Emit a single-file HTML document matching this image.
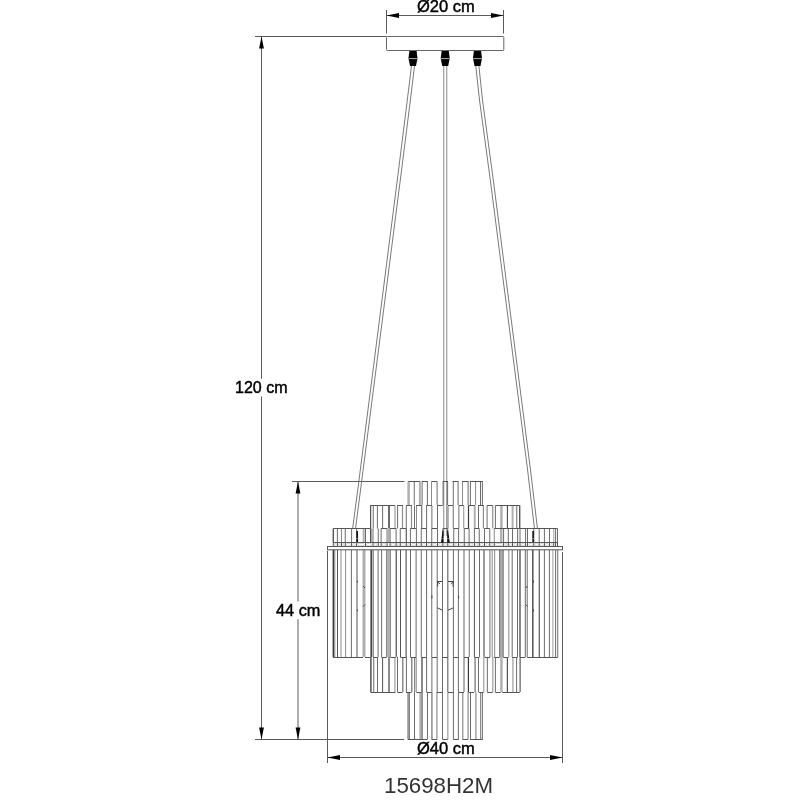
<!DOCTYPE html>
<html><head><meta charset="utf-8"><style>
html,body{margin:0;padding:0;background:#fff;width:800px;height:800px;overflow:hidden}
svg{position:absolute;left:0;top:0}
.t{position:absolute;font-family:"Liberation Sans",sans-serif;color:#000;white-space:nowrap;line-height:1;-webkit-text-stroke:0.45px #000;will-change:transform}
</style></head><body>
<svg width="800" height="800" viewBox="0 0 800 800">
<line x1="255" y1="36.5" x2="386.5" y2="36.5" stroke="#5a5a5a" stroke-width="1"/>
<line x1="261.5" y1="36.5" x2="261.5" y2="378.7" stroke="#5a5a5a" stroke-width="1"/>
<line x1="261.5" y1="396.5" x2="261.5" y2="739.5" stroke="#5a5a5a" stroke-width="1"/>
<path d="M261.5,36.5 L259.1,48.5 L263.9,48.5 Z" fill="#000" stroke="none" stroke-width="1"/>
<line x1="255" y1="739.5" x2="404" y2="739.5" stroke="#5a5a5a" stroke-width="1"/>
<path d="M261.5,739.5 L259.1,727.5 L263.9,727.5 Z" fill="#000" stroke="none" stroke-width="1"/>
<line x1="292" y1="481.5" x2="404.5" y2="481.5" stroke="#5a5a5a" stroke-width="1"/>
<line x1="298" y1="481.5" x2="298" y2="601.5" stroke="#5a5a5a" stroke-width="1"/>
<line x1="298" y1="619.2" x2="298" y2="739.5" stroke="#5a5a5a" stroke-width="1"/>
<path d="M298,481.5 L295.6,493.5 L300.4,493.5 Z" fill="#000" stroke="none" stroke-width="1"/>
<path d="M298,739.5 L295.6,727.5 L300.4,727.5 Z" fill="#000" stroke="none" stroke-width="1"/>
<line x1="386.5" y1="10" x2="386.5" y2="33.5" stroke="#5a5a5a" stroke-width="1"/>
<line x1="503.5" y1="10" x2="503.5" y2="33.5" stroke="#5a5a5a" stroke-width="1"/>
<line x1="386.5" y1="15.5" x2="503.5" y2="15.5" stroke="#5a5a5a" stroke-width="1"/>
<path d="M386.5,15.5 L399,13.1 L399,17.9 Z" fill="#000" stroke="none" stroke-width="1"/>
<path d="M503.5,15.5 L491,13.1 L491,17.9 Z" fill="#000" stroke="none" stroke-width="1"/>
<line x1="327.5" y1="551" x2="327.5" y2="763" stroke="#5a5a5a" stroke-width="1"/>
<line x1="562.5" y1="552" x2="562.5" y2="763" stroke="#5a5a5a" stroke-width="1"/>
<line x1="327.5" y1="757.5" x2="562.5" y2="757.5" stroke="#5a5a5a" stroke-width="1"/>
<path d="M327.5,757.5 L340,755.1 L340,759.9 Z" fill="#000" stroke="none" stroke-width="1"/>
<path d="M562.5,757.5 L550,755.1 L550,759.9 Z" fill="#000" stroke="none" stroke-width="1"/>
<rect x="386.5" y="36.5" width="117.3" height="14" rx="0.8" fill="#fff" stroke="#666" stroke-width="1"/>
<path d="M409.4,51 L416.6,51 L417.5,58.2 L416,66 L410,66 L408.5,58.2 Z" fill="#000" stroke="none" stroke-width="1"/>
<line x1="408.7" y1="58.6" x2="417.3" y2="58.6" stroke="#ddd" stroke-width="0.8"/>
<path d="M441.59999999999997,51 L448.8,51 L449.7,58.2 L448.2,66 L442.2,66 L440.7,58.2 Z" fill="#000" stroke="none" stroke-width="1"/>
<line x1="440.9" y1="58.6" x2="449.5" y2="58.6" stroke="#ddd" stroke-width="0.8"/>
<path d="M473.9,51 L481.1,51 L482.0,58.2 L480.5,66 L474.5,66 L473.0,58.2 Z" fill="#000" stroke="none" stroke-width="1"/>
<line x1="473.2" y1="58.6" x2="481.8" y2="58.6" stroke="#ddd" stroke-width="0.8"/>
<path d="M411.5,66 L407.3,100 L397.3,180 L358.9,481 L352.7,528 M414.5,66 L410.4,100 L400.3,180 L361.7,481 L355.6,528 M475.8,66 L479.5,100 L490.3,180 L527.6,470 L534.4,528 M478.9,66 L482.5,100 L493.3,180 L530.5,470 L537.4,528" fill="none" stroke="#6a6a6a" stroke-width="0.9"/>
<line x1="443.75" y1="66" x2="443.75" y2="536" stroke="#888" stroke-width="1"/>
<line x1="446.75" y1="66" x2="446.75" y2="536" stroke="#888" stroke-width="1"/>
<line x1="333.4" y1="550" x2="333.4" y2="657" stroke="#3a3a3a" stroke-width="1.6"/>
<line x1="334.8" y1="550" x2="334.8" y2="657" stroke="#8c8c8c" stroke-width="1"/>
<line x1="337.5" y1="550" x2="337.5" y2="657" stroke="#525252" stroke-width="1"/>
<line x1="341" y1="550" x2="341" y2="657" stroke="#8c8c8c" stroke-width="1"/>
<line x1="345.6" y1="550" x2="345.6" y2="657" stroke="#8c8c8c" stroke-width="1"/>
<line x1="351.4" y1="550" x2="351.4" y2="657" stroke="#6c6c6c" stroke-width="1"/>
<line x1="357" y1="550" x2="357" y2="657" stroke="#525252" stroke-width="1"/>
<line x1="364" y1="550" x2="364" y2="657" stroke="#b0b0b0" stroke-width="3"/>
<line x1="371.2" y1="550" x2="371.2" y2="657" stroke="#3a3a3a" stroke-width="1.5"/>
<line x1="373.2" y1="550" x2="373.2" y2="657" stroke="#8c8c8c" stroke-width="1.5"/>
<line x1="378.1" y1="550" x2="378.1" y2="657" stroke="#6c6c6c" stroke-width="1"/>
<line x1="381.6" y1="550" x2="381.6" y2="657" stroke="#6c6c6c" stroke-width="1"/>
<line x1="388.4" y1="550" x2="388.4" y2="657" stroke="#b0b0b0" stroke-width="4"/>
<line x1="386.5" y1="550" x2="386.5" y2="657" stroke="#8c8c8c" stroke-width="1"/>
<line x1="390.5" y1="550" x2="390.5" y2="657" stroke="#8c8c8c" stroke-width="1"/>
<line x1="396.3" y1="550" x2="396.3" y2="657" stroke="#6c6c6c" stroke-width="1.5"/>
<line x1="400.5" y1="550" x2="400.5" y2="657" stroke="#525252" stroke-width="1"/>
<line x1="406.1" y1="550" x2="406.1" y2="657" stroke="#3a3a3a" stroke-width="1"/>
<line x1="410.5" y1="550" x2="410.5" y2="657" stroke="#6c6c6c" stroke-width="1"/>
<line x1="416.1" y1="550" x2="416.1" y2="657" stroke="#6c6c6c" stroke-width="1"/>
<line x1="421.25" y1="550" x2="421.25" y2="657" stroke="#6c6c6c" stroke-width="1"/>
<line x1="426.6" y1="550" x2="426.6" y2="657" stroke="#6c6c6c" stroke-width="1"/>
<line x1="431.75" y1="550" x2="431.75" y2="657" stroke="#6c6c6c" stroke-width="1"/>
<line x1="437.2" y1="550" x2="437.2" y2="657" stroke="#6c6c6c" stroke-width="1"/>
<line x1="442.5" y1="550" x2="442.5" y2="657" stroke="#6c6c6c" stroke-width="1"/>
<line x1="447.8" y1="550" x2="447.8" y2="657" stroke="#6c6c6c" stroke-width="1.2"/>
<line x1="453.4" y1="550" x2="453.4" y2="657" stroke="#6c6c6c" stroke-width="1"/>
<line x1="458.4" y1="550" x2="458.4" y2="657" stroke="#6c6c6c" stroke-width="1"/>
<line x1="464" y1="550" x2="464" y2="657" stroke="#b0b0b0" stroke-width="2"/>
<line x1="469.25" y1="550" x2="469.25" y2="657" stroke="#6c6c6c" stroke-width="1"/>
<line x1="474.4" y1="550" x2="474.4" y2="657" stroke="#525252" stroke-width="1"/>
<line x1="479.5" y1="550" x2="479.5" y2="657" stroke="#6c6c6c" stroke-width="1"/>
<line x1="484" y1="550" x2="484" y2="657" stroke="#3a3a3a" stroke-width="1"/>
<line x1="489.9" y1="550" x2="489.9" y2="657" stroke="#8c8c8c" stroke-width="1.2"/>
<line x1="492.2" y1="550" x2="492.2" y2="657" stroke="#8c8c8c" stroke-width="1"/>
<line x1="494.7" y1="550" x2="494.7" y2="657" stroke="#8c8c8c" stroke-width="1"/>
<line x1="501.4" y1="550" x2="501.4" y2="657" stroke="#b0b0b0" stroke-width="4"/>
<line x1="499.7" y1="550" x2="499.7" y2="657" stroke="#6c6c6c" stroke-width="1"/>
<line x1="503.1" y1="550" x2="503.1" y2="657" stroke="#6c6c6c" stroke-width="1"/>
<line x1="508.75" y1="550" x2="508.75" y2="657" stroke="#b0b0b0" stroke-width="1.5"/>
<line x1="512.2" y1="550" x2="512.2" y2="657" stroke="#6c6c6c" stroke-width="1"/>
<line x1="517.5" y1="550" x2="517.5" y2="657" stroke="#6c6c6c" stroke-width="1"/>
<line x1="520" y1="550" x2="520" y2="657" stroke="#3a3a3a" stroke-width="1.2"/>
<line x1="525.3" y1="550" x2="525.3" y2="657" stroke="#6c6c6c" stroke-width="1"/>
<line x1="527.2" y1="550" x2="527.2" y2="657" stroke="#6c6c6c" stroke-width="1"/>
<line x1="532.8" y1="550" x2="532.8" y2="657" stroke="#525252" stroke-width="1.5"/>
<line x1="539.25" y1="550" x2="539.25" y2="657" stroke="#3a3a3a" stroke-width="1"/>
<line x1="544.4" y1="550" x2="544.4" y2="657" stroke="#6c6c6c" stroke-width="1"/>
<line x1="549.4" y1="550" x2="549.4" y2="657" stroke="#6c6c6c" stroke-width="1"/>
<line x1="552.8" y1="550" x2="552.8" y2="657" stroke="#b0b0b0" stroke-width="1.2"/>
<line x1="555.6" y1="550" x2="555.6" y2="657" stroke="#6c6c6c" stroke-width="1"/>
<line x1="557.75" y1="550" x2="557.75" y2="657" stroke="#6c6c6c" stroke-width="1"/>
<line x1="370.9" y1="657" x2="370.9" y2="692" stroke="#525252" stroke-width="1.5"/>
<line x1="373.75" y1="657" x2="373.75" y2="692" stroke="#6c6c6c" stroke-width="1"/>
<line x1="377.5" y1="657" x2="377.5" y2="692" stroke="#6c6c6c" stroke-width="1"/>
<line x1="382.6" y1="657" x2="382.6" y2="692" stroke="#525252" stroke-width="1"/>
<line x1="389" y1="657" x2="389" y2="692" stroke="#8c8c8c" stroke-width="2"/>
<line x1="394.9" y1="657" x2="394.9" y2="692" stroke="#b0b0b0" stroke-width="1.5"/>
<line x1="397.5" y1="657" x2="397.5" y2="692" stroke="#6c6c6c" stroke-width="1"/>
<line x1="402.8" y1="657" x2="402.8" y2="692" stroke="#8c8c8c" stroke-width="1.5"/>
<line x1="406.4" y1="657" x2="406.4" y2="692" stroke="#6c6c6c" stroke-width="1"/>
<line x1="411.75" y1="657" x2="411.75" y2="692" stroke="#8c8c8c" stroke-width="1.5"/>
<line x1="414.7" y1="657" x2="414.7" y2="692" stroke="#6c6c6c" stroke-width="1"/>
<line x1="416.25" y1="657" x2="416.25" y2="692" stroke="#8c8c8c" stroke-width="1"/>
<line x1="422" y1="657" x2="422" y2="692" stroke="#3a3a3a" stroke-width="1.2"/>
<line x1="426.6" y1="657" x2="426.6" y2="692" stroke="#6c6c6c" stroke-width="1"/>
<line x1="431.9" y1="657" x2="431.9" y2="692" stroke="#6c6c6c" stroke-width="1"/>
<line x1="437.2" y1="657" x2="437.2" y2="692" stroke="#6c6c6c" stroke-width="1"/>
<line x1="442.5" y1="657" x2="442.5" y2="692" stroke="#6c6c6c" stroke-width="1"/>
<line x1="447.8" y1="657" x2="447.8" y2="692" stroke="#6c6c6c" stroke-width="1.2"/>
<line x1="453.4" y1="657" x2="453.4" y2="692" stroke="#6c6c6c" stroke-width="1"/>
<line x1="458.4" y1="657" x2="458.4" y2="692" stroke="#6c6c6c" stroke-width="1"/>
<line x1="464" y1="657" x2="464" y2="692" stroke="#b0b0b0" stroke-width="2"/>
<line x1="468.4" y1="657" x2="468.4" y2="692" stroke="#3a3a3a" stroke-width="1.2"/>
<line x1="475.1" y1="657" x2="475.1" y2="692" stroke="#8c8c8c" stroke-width="1.5"/>
<line x1="478.5" y1="657" x2="478.5" y2="692" stroke="#6c6c6c" stroke-width="1"/>
<line x1="483.75" y1="657" x2="483.75" y2="692" stroke="#b0b0b0" stroke-width="1.5"/>
<line x1="487.35" y1="657" x2="487.35" y2="692" stroke="#6c6c6c" stroke-width="1"/>
<line x1="492.75" y1="657" x2="492.75" y2="692" stroke="#b0b0b0" stroke-width="1.5"/>
<line x1="495.4" y1="657" x2="495.4" y2="692" stroke="#6c6c6c" stroke-width="1"/>
<line x1="501.4" y1="657" x2="501.4" y2="692" stroke="#b0b0b0" stroke-width="2.5"/>
<line x1="507.4" y1="657" x2="507.4" y2="692" stroke="#525252" stroke-width="1.2"/>
<line x1="512.9" y1="657" x2="512.9" y2="692" stroke="#b0b0b0" stroke-width="1.5"/>
<line x1="516.6" y1="657" x2="516.6" y2="692" stroke="#6c6c6c" stroke-width="1"/>
<line x1="520.1" y1="657" x2="520.1" y2="692" stroke="#3a3a3a" stroke-width="1"/>
<line x1="408.5" y1="692" x2="408.5" y2="739.5" stroke="#b0b0b0" stroke-width="3"/>
<line x1="409.2" y1="692" x2="409.2" y2="739.5" stroke="#6c6c6c" stroke-width="1"/>
<line x1="414.5" y1="692" x2="414.5" y2="739.5" stroke="#6c6c6c" stroke-width="1"/>
<line x1="420.8" y1="692" x2="420.8" y2="739.5" stroke="#b0b0b0" stroke-width="3"/>
<line x1="422.2" y1="692" x2="422.2" y2="739.5" stroke="#6c6c6c" stroke-width="1"/>
<line x1="427.5" y1="692" x2="427.5" y2="739.5" stroke="#6c6c6c" stroke-width="1"/>
<line x1="431.9" y1="692" x2="431.9" y2="739.5" stroke="#8c8c8c" stroke-width="1.5"/>
<line x1="436.9" y1="692" x2="436.9" y2="739.5" stroke="#8c8c8c" stroke-width="1.2"/>
<line x1="442.5" y1="692" x2="442.5" y2="739.5" stroke="#6c6c6c" stroke-width="1"/>
<line x1="447.8" y1="692" x2="447.8" y2="739.5" stroke="#b0b0b0" stroke-width="1.5"/>
<line x1="453.4" y1="692" x2="453.4" y2="739.5" stroke="#6c6c6c" stroke-width="1"/>
<line x1="458.4" y1="692" x2="458.4" y2="739.5" stroke="#6c6c6c" stroke-width="1"/>
<line x1="462.8" y1="692" x2="462.8" y2="739.5" stroke="#8c8c8c" stroke-width="1.2"/>
<line x1="468.1" y1="692" x2="468.1" y2="739.5" stroke="#8c8c8c" stroke-width="1.2"/>
<line x1="470.5" y1="692" x2="470.5" y2="739.5" stroke="#6c6c6c" stroke-width="1"/>
<line x1="475.9" y1="692" x2="475.9" y2="739.5" stroke="#8c8c8c" stroke-width="1.2"/>
<line x1="480.6" y1="692" x2="480.6" y2="739.5" stroke="#8c8c8c" stroke-width="1.2"/>
<line x1="482.4" y1="692" x2="482.4" y2="739.5" stroke="#6c6c6c" stroke-width="1"/>
<line x1="333" y1="657.5" x2="363" y2="657.5" stroke="#555" stroke-width="1"/>
<line x1="365" y1="657.5" x2="370.5" y2="657.5" stroke="#555" stroke-width="1"/>
<line x1="373" y1="657.5" x2="378" y2="657.5" stroke="#555" stroke-width="1"/>
<line x1="381.5" y1="657.5" x2="386.7" y2="657.5" stroke="#555" stroke-width="1"/>
<line x1="390.4" y1="657.5" x2="395.7" y2="657.5" stroke="#555" stroke-width="1"/>
<line x1="400.4" y1="657.5" x2="406.1" y2="657.5" stroke="#555" stroke-width="1"/>
<line x1="410.5" y1="657.5" x2="416" y2="657.5" stroke="#555" stroke-width="1"/>
<line x1="421.5" y1="657.5" x2="426.5" y2="657.5" stroke="#555" stroke-width="1"/>
<line x1="432" y1="657.5" x2="437" y2="657.5" stroke="#555" stroke-width="1"/>
<line x1="442.3" y1="657.5" x2="448" y2="657.5" stroke="#555" stroke-width="1"/>
<line x1="453.3" y1="657.5" x2="458.6" y2="657.5" stroke="#555" stroke-width="1"/>
<line x1="464" y1="657.5" x2="468.7" y2="657.5" stroke="#555" stroke-width="1"/>
<line x1="474.5" y1="657.5" x2="479.3" y2="657.5" stroke="#555" stroke-width="1"/>
<line x1="484.6" y1="657.5" x2="490" y2="657.5" stroke="#555" stroke-width="1"/>
<line x1="494.2" y1="657.5" x2="499.5" y2="657.5" stroke="#555" stroke-width="1"/>
<line x1="503.2" y1="657.5" x2="508.5" y2="657.5" stroke="#555" stroke-width="1"/>
<line x1="512.3" y1="657.5" x2="517.5" y2="657.5" stroke="#555" stroke-width="1"/>
<line x1="520" y1="657.5" x2="525.3" y2="657.5" stroke="#555" stroke-width="1"/>
<line x1="527.2" y1="657.5" x2="557.8" y2="657.5" stroke="#555" stroke-width="1"/>
<line x1="370.5" y1="692.5" x2="395.5" y2="692.5" stroke="#555" stroke-width="1"/>
<line x1="397.5" y1="692.5" x2="402.5" y2="692.5" stroke="#555" stroke-width="1"/>
<line x1="406" y1="692.5" x2="411.5" y2="692.5" stroke="#555" stroke-width="1"/>
<line x1="416.5" y1="692.5" x2="421.5" y2="692.5" stroke="#555" stroke-width="1"/>
<line x1="426.5" y1="692.5" x2="431.5" y2="692.5" stroke="#555" stroke-width="1"/>
<line x1="437" y1="692.5" x2="442.5" y2="692.5" stroke="#555" stroke-width="1"/>
<line x1="448" y1="692.5" x2="453.3" y2="692.5" stroke="#555" stroke-width="1"/>
<line x1="458.6" y1="692.5" x2="463.9" y2="692.5" stroke="#555" stroke-width="1"/>
<line x1="468.7" y1="692.5" x2="474" y2="692.5" stroke="#555" stroke-width="1"/>
<line x1="478.8" y1="692.5" x2="483.6" y2="692.5" stroke="#555" stroke-width="1"/>
<line x1="487.3" y1="692.5" x2="492.6" y2="692.5" stroke="#555" stroke-width="1"/>
<line x1="495.3" y1="692.5" x2="500.6" y2="692.5" stroke="#555" stroke-width="1"/>
<line x1="502.2" y1="692.5" x2="519.7" y2="692.5" stroke="#555" stroke-width="1"/>
<line x1="407.9" y1="739.5" x2="427" y2="739.5" stroke="#555" stroke-width="1"/>
<line x1="431.5" y1="739.5" x2="437.1" y2="739.5" stroke="#555" stroke-width="1"/>
<line x1="442.5" y1="739.5" x2="447.8" y2="739.5" stroke="#555" stroke-width="1"/>
<line x1="453.4" y1="739.5" x2="458.5" y2="739.5" stroke="#555" stroke-width="1"/>
<line x1="462.5" y1="739.5" x2="468" y2="739.5" stroke="#555" stroke-width="1"/>
<line x1="470" y1="739.5" x2="482.7" y2="739.5" stroke="#555" stroke-width="1"/>
<line x1="408.6" y1="481.5" x2="408.6" y2="505" stroke="#b0b0b0" stroke-width="2.5"/>
<line x1="414.25" y1="481.5" x2="414.25" y2="505" stroke="#6c6c6c" stroke-width="1"/>
<line x1="419.9" y1="481.5" x2="419.9" y2="505" stroke="#b0b0b0" stroke-width="2"/>
<line x1="422.1" y1="481.5" x2="422.1" y2="505" stroke="#6c6c6c" stroke-width="1"/>
<line x1="427.4" y1="481.5" x2="427.4" y2="505" stroke="#6c6c6c" stroke-width="1"/>
<line x1="431.5" y1="481.5" x2="431.5" y2="505" stroke="#8c8c8c" stroke-width="1"/>
<line x1="437.1" y1="481.5" x2="437.1" y2="505" stroke="#6c6c6c" stroke-width="1"/>
<line x1="443.1" y1="481.5" x2="443.1" y2="505" stroke="#6c6c6c" stroke-width="1"/>
<line x1="447.6" y1="481.5" x2="447.6" y2="505" stroke="#6c6c6c" stroke-width="1"/>
<line x1="453.3" y1="481.5" x2="453.3" y2="505" stroke="#6c6c6c" stroke-width="1"/>
<line x1="458.1" y1="481.5" x2="458.1" y2="505" stroke="#6c6c6c" stroke-width="1"/>
<line x1="462.5" y1="481.5" x2="462.5" y2="505" stroke="#8c8c8c" stroke-width="1"/>
<line x1="468.1" y1="481.5" x2="468.1" y2="505" stroke="#6c6c6c" stroke-width="1"/>
<line x1="470.4" y1="481.5" x2="470.4" y2="505" stroke="#6c6c6c" stroke-width="1"/>
<line x1="475.6" y1="481.5" x2="475.6" y2="505" stroke="#8c8c8c" stroke-width="1"/>
<line x1="480.5" y1="481.5" x2="480.5" y2="505" stroke="#6c6c6c" stroke-width="1"/>
<line x1="482.4" y1="481.5" x2="482.4" y2="505" stroke="#6c6c6c" stroke-width="1"/>
<line x1="408.25" y1="481.5" x2="419.9" y2="481.5" stroke="#555" stroke-width="1"/>
<line x1="421.75" y1="481.5" x2="427.75" y2="481.5" stroke="#555" stroke-width="1"/>
<line x1="431.5" y1="481.5" x2="437.1" y2="481.5" stroke="#555" stroke-width="1"/>
<line x1="442.75" y1="481.5" x2="448" y2="481.5" stroke="#555" stroke-width="1"/>
<line x1="452.5" y1="481.5" x2="458.5" y2="481.5" stroke="#555" stroke-width="1"/>
<line x1="462.1" y1="481.5" x2="468.5" y2="481.5" stroke="#555" stroke-width="1"/>
<line x1="470" y1="481.5" x2="482.75" y2="481.5" stroke="#555" stroke-width="1"/>
<line x1="370.6" y1="505.5" x2="370.6" y2="528.5" stroke="#525252" stroke-width="1.2"/>
<line x1="373.25" y1="505.5" x2="373.25" y2="528.5" stroke="#6c6c6c" stroke-width="1"/>
<line x1="377.4" y1="505.5" x2="377.4" y2="528.5" stroke="#6c6c6c" stroke-width="1"/>
<line x1="382.6" y1="505.5" x2="382.6" y2="528.5" stroke="#6c6c6c" stroke-width="1"/>
<line x1="389" y1="505.5" x2="389" y2="528.5" stroke="#6c6c6c" stroke-width="2"/>
<line x1="395" y1="505.5" x2="395" y2="528.5" stroke="#b0b0b0" stroke-width="1.5"/>
<line x1="397.6" y1="505.5" x2="397.6" y2="528.5" stroke="#6c6c6c" stroke-width="1"/>
<line x1="402.5" y1="505.5" x2="402.5" y2="528.5" stroke="#8c8c8c" stroke-width="1.2"/>
<line x1="406.25" y1="505.5" x2="406.25" y2="528.5" stroke="#6c6c6c" stroke-width="1"/>
<line x1="411.5" y1="505.5" x2="411.5" y2="528.5" stroke="#8c8c8c" stroke-width="1.2"/>
<line x1="414.5" y1="505.5" x2="414.5" y2="528.5" stroke="#6c6c6c" stroke-width="1"/>
<line x1="416.5" y1="505.5" x2="416.5" y2="528.5" stroke="#8c8c8c" stroke-width="1"/>
<line x1="421.75" y1="505.5" x2="421.75" y2="528.5" stroke="#525252" stroke-width="1"/>
<line x1="426.6" y1="505.5" x2="426.6" y2="528.5" stroke="#6c6c6c" stroke-width="1"/>
<line x1="431.9" y1="505.5" x2="431.9" y2="528.5" stroke="#6c6c6c" stroke-width="1"/>
<line x1="437.5" y1="505.5" x2="437.5" y2="528.5" stroke="#6c6c6c" stroke-width="1"/>
<line x1="448" y1="505.5" x2="448" y2="528.5" stroke="#6c6c6c" stroke-width="1"/>
<line x1="453.25" y1="505.5" x2="453.25" y2="528.5" stroke="#6c6c6c" stroke-width="1"/>
<line x1="458.9" y1="505.5" x2="458.9" y2="528.5" stroke="#6c6c6c" stroke-width="1"/>
<line x1="463.75" y1="505.5" x2="463.75" y2="528.5" stroke="#8c8c8c" stroke-width="1"/>
<line x1="468.5" y1="505.5" x2="468.5" y2="528.5" stroke="#3a3a3a" stroke-width="1.2"/>
<line x1="474.75" y1="505.5" x2="474.75" y2="528.5" stroke="#b0b0b0" stroke-width="2"/>
<line x1="478.5" y1="505.5" x2="478.5" y2="528.5" stroke="#6c6c6c" stroke-width="1"/>
<line x1="483.4" y1="505.5" x2="483.4" y2="528.5" stroke="#8c8c8c" stroke-width="1.2"/>
<line x1="487.1" y1="505.5" x2="487.1" y2="528.5" stroke="#6c6c6c" stroke-width="1"/>
<line x1="492.75" y1="505.5" x2="492.75" y2="528.5" stroke="#8c8c8c" stroke-width="1.2"/>
<line x1="495.4" y1="505.5" x2="495.4" y2="528.5" stroke="#6c6c6c" stroke-width="1"/>
<line x1="501.4" y1="505.5" x2="501.4" y2="528.5" stroke="#b0b0b0" stroke-width="2.5"/>
<line x1="507.4" y1="505.5" x2="507.4" y2="528.5" stroke="#3a3a3a" stroke-width="1"/>
<line x1="512.6" y1="505.5" x2="512.6" y2="528.5" stroke="#b0b0b0" stroke-width="2"/>
<line x1="516.75" y1="505.5" x2="516.75" y2="528.5" stroke="#6c6c6c" stroke-width="1"/>
<line x1="519.75" y1="505.5" x2="519.75" y2="528.5" stroke="#3a3a3a" stroke-width="1.2"/>
<line x1="370.25" y1="505.5" x2="395" y2="505.5" stroke="#555" stroke-width="1"/>
<line x1="397.25" y1="505.5" x2="402.9" y2="505.5" stroke="#555" stroke-width="1"/>
<line x1="406.25" y1="505.5" x2="411.9" y2="505.5" stroke="#555" stroke-width="1"/>
<line x1="416.1" y1="505.5" x2="421.75" y2="505.5" stroke="#555" stroke-width="1"/>
<line x1="426.25" y1="505.5" x2="431.9" y2="505.5" stroke="#555" stroke-width="1"/>
<line x1="437.1" y1="505.5" x2="442.75" y2="505.5" stroke="#555" stroke-width="1"/>
<line x1="448" y1="505.5" x2="453.25" y2="505.5" stroke="#555" stroke-width="1"/>
<line x1="458.9" y1="505.5" x2="463.75" y2="505.5" stroke="#555" stroke-width="1"/>
<line x1="468.5" y1="505.5" x2="475" y2="505.5" stroke="#555" stroke-width="1"/>
<line x1="478.1" y1="505.5" x2="483.75" y2="505.5" stroke="#555" stroke-width="1"/>
<line x1="487.1" y1="505.5" x2="492.75" y2="505.5" stroke="#555" stroke-width="1"/>
<line x1="495.4" y1="505.5" x2="519.75" y2="505.5" stroke="#555" stroke-width="1"/>
<line x1="333.25" y1="528.5" x2="333.25" y2="542.5" stroke="#3a3a3a" stroke-width="1.2"/>
<line x1="337.4" y1="528.5" x2="337.4" y2="542.5" stroke="#6c6c6c" stroke-width="1"/>
<line x1="341.5" y1="528.5" x2="341.5" y2="542.5" stroke="#8c8c8c" stroke-width="1"/>
<line x1="345.25" y1="528.5" x2="345.25" y2="542.5" stroke="#6c6c6c" stroke-width="1"/>
<line x1="351.6" y1="528.5" x2="351.6" y2="542.5" stroke="#6c6c6c" stroke-width="1"/>
<line x1="356.6" y1="528.5" x2="356.6" y2="542.5" stroke="#6c6c6c" stroke-width="1"/>
<line x1="363.7" y1="528.5" x2="363.7" y2="542.5" stroke="#b0b0b0" stroke-width="2"/>
<line x1="365.5" y1="528.5" x2="365.5" y2="542.5" stroke="#6c6c6c" stroke-width="1"/>
<line x1="370.75" y1="528.5" x2="370.75" y2="542.5" stroke="#525252" stroke-width="1.5"/>
<line x1="373" y1="528.5" x2="373" y2="542.5" stroke="#6c6c6c" stroke-width="1"/>
<line x1="378.25" y1="528.5" x2="378.25" y2="542.5" stroke="#6c6c6c" stroke-width="1"/>
<line x1="381.1" y1="528.5" x2="381.1" y2="542.5" stroke="#6c6c6c" stroke-width="1"/>
<line x1="387.1" y1="528.5" x2="387.1" y2="542.5" stroke="#6c6c6c" stroke-width="1"/>
<line x1="388.5" y1="528.5" x2="388.5" y2="542.5" stroke="#b0b0b0" stroke-width="2"/>
<line x1="390.1" y1="528.5" x2="390.1" y2="542.5" stroke="#6c6c6c" stroke-width="1"/>
<line x1="396.1" y1="528.5" x2="396.1" y2="542.5" stroke="#6c6c6c" stroke-width="1"/>
<line x1="400.25" y1="528.5" x2="400.25" y2="542.5" stroke="#6c6c6c" stroke-width="1"/>
<line x1="406.25" y1="528.5" x2="406.25" y2="542.5" stroke="#3a3a3a" stroke-width="1"/>
<line x1="410.4" y1="528.5" x2="410.4" y2="542.5" stroke="#6c6c6c" stroke-width="1"/>
<line x1="416.4" y1="528.5" x2="416.4" y2="542.5" stroke="#6c6c6c" stroke-width="1"/>
<line x1="421.25" y1="528.5" x2="421.25" y2="542.5" stroke="#6c6c6c" stroke-width="1"/>
<line x1="426.5" y1="528.5" x2="426.5" y2="542.5" stroke="#6c6c6c" stroke-width="1"/>
<line x1="431.75" y1="528.5" x2="431.75" y2="542.5" stroke="#6c6c6c" stroke-width="1"/>
<line x1="437.5" y1="528.5" x2="437.5" y2="542.5" stroke="#6c6c6c" stroke-width="1"/>
<line x1="442.9" y1="528.5" x2="442.9" y2="542.5" stroke="#6c6c6c" stroke-width="1"/>
<line x1="447.75" y1="528.5" x2="447.75" y2="542.5" stroke="#6c6c6c" stroke-width="1"/>
<line x1="453.75" y1="528.5" x2="453.75" y2="542.5" stroke="#6c6c6c" stroke-width="1"/>
<line x1="458.6" y1="528.5" x2="458.6" y2="542.5" stroke="#6c6c6c" stroke-width="1"/>
<line x1="464.25" y1="528.5" x2="464.25" y2="542.5" stroke="#6c6c6c" stroke-width="1"/>
<line x1="469.1" y1="528.5" x2="469.1" y2="542.5" stroke="#6c6c6c" stroke-width="1"/>
<line x1="474.4" y1="528.5" x2="474.4" y2="542.5" stroke="#6c6c6c" stroke-width="1"/>
<line x1="479.25" y1="528.5" x2="479.25" y2="542.5" stroke="#6c6c6c" stroke-width="1"/>
<line x1="484.5" y1="528.5" x2="484.5" y2="542.5" stroke="#6c6c6c" stroke-width="1"/>
<line x1="489.75" y1="528.5" x2="489.75" y2="542.5" stroke="#6c6c6c" stroke-width="1"/>
<line x1="494.25" y1="528.5" x2="494.25" y2="542.5" stroke="#8c8c8c" stroke-width="1"/>
<line x1="501.25" y1="528.5" x2="501.25" y2="542.5" stroke="#b0b0b0" stroke-width="2.5"/>
<line x1="503.6" y1="528.5" x2="503.6" y2="542.5" stroke="#6c6c6c" stroke-width="1"/>
<line x1="508.3" y1="528.5" x2="508.3" y2="542.5" stroke="#6c6c6c" stroke-width="1"/>
<line x1="512.5" y1="528.5" x2="512.5" y2="542.5" stroke="#6c6c6c" stroke-width="1"/>
<line x1="517.65" y1="528.5" x2="517.65" y2="542.5" stroke="#6c6c6c" stroke-width="1"/>
<line x1="520" y1="528.5" x2="520" y2="542.5" stroke="#6c6c6c" stroke-width="1"/>
<line x1="525.6" y1="528.5" x2="525.6" y2="542.5" stroke="#6c6c6c" stroke-width="1"/>
<line x1="527.5" y1="528.5" x2="527.5" y2="542.5" stroke="#6c6c6c" stroke-width="1"/>
<line x1="533.8" y1="528.5" x2="533.8" y2="542.5" stroke="#6c6c6c" stroke-width="1"/>
<line x1="539.2" y1="528.5" x2="539.2" y2="542.5" stroke="#6c6c6c" stroke-width="1"/>
<line x1="544.4" y1="528.5" x2="544.4" y2="542.5" stroke="#6c6c6c" stroke-width="1"/>
<line x1="549.5" y1="528.5" x2="549.5" y2="542.5" stroke="#6c6c6c" stroke-width="1"/>
<line x1="553.75" y1="528.5" x2="553.75" y2="542.5" stroke="#b0b0b0" stroke-width="1.2"/>
<line x1="555.6" y1="528.5" x2="555.6" y2="542.5" stroke="#6c6c6c" stroke-width="1"/>
<line x1="557.5" y1="528.5" x2="557.5" y2="542.5" stroke="#6c6c6c" stroke-width="1"/>
<line x1="333.25" y1="528.5" x2="370.75" y2="528.5" stroke="#555" stroke-width="1"/>
<line x1="381.1" y1="528.5" x2="387.1" y2="528.5" stroke="#555" stroke-width="1"/>
<line x1="390.1" y1="528.5" x2="396.1" y2="528.5" stroke="#555" stroke-width="1"/>
<line x1="400.25" y1="528.5" x2="406.25" y2="528.5" stroke="#555" stroke-width="1"/>
<line x1="410.4" y1="528.5" x2="416.4" y2="528.5" stroke="#555" stroke-width="1"/>
<line x1="421.25" y1="528.5" x2="426.5" y2="528.5" stroke="#555" stroke-width="1"/>
<line x1="431.75" y1="528.5" x2="437.5" y2="528.5" stroke="#555" stroke-width="1"/>
<line x1="442.9" y1="528.5" x2="447.75" y2="528.5" stroke="#555" stroke-width="1"/>
<line x1="453.75" y1="528.5" x2="458.6" y2="528.5" stroke="#555" stroke-width="1"/>
<line x1="464.25" y1="528.5" x2="469.1" y2="528.5" stroke="#555" stroke-width="1"/>
<line x1="474.4" y1="528.5" x2="479.25" y2="528.5" stroke="#555" stroke-width="1"/>
<line x1="484.5" y1="528.5" x2="489.75" y2="528.5" stroke="#555" stroke-width="1"/>
<line x1="494.25" y1="528.5" x2="557.5" y2="528.5" stroke="#555" stroke-width="1"/>
<line x1="333" y1="542.5" x2="558" y2="542.5" stroke="#555" stroke-width="1"/>
<line x1="333.25" y1="542.5" x2="333.25" y2="546.5" stroke="#525252" stroke-width="1"/>
<line x1="337.4" y1="542.5" x2="337.4" y2="546.5" stroke="#525252" stroke-width="1"/>
<line x1="341.5" y1="542.5" x2="341.5" y2="546.5" stroke="#525252" stroke-width="1"/>
<line x1="345.25" y1="542.5" x2="345.25" y2="546.5" stroke="#525252" stroke-width="1"/>
<line x1="351.6" y1="542.5" x2="351.6" y2="546.5" stroke="#525252" stroke-width="1"/>
<line x1="356.6" y1="542.5" x2="356.6" y2="546.5" stroke="#525252" stroke-width="1"/>
<line x1="365.5" y1="542.5" x2="365.5" y2="546.5" stroke="#525252" stroke-width="1"/>
<line x1="373" y1="542.5" x2="373" y2="546.5" stroke="#525252" stroke-width="1"/>
<line x1="378.25" y1="542.5" x2="378.25" y2="546.5" stroke="#525252" stroke-width="1"/>
<line x1="381.1" y1="542.5" x2="381.1" y2="546.5" stroke="#525252" stroke-width="1"/>
<line x1="387.1" y1="542.5" x2="387.1" y2="546.5" stroke="#525252" stroke-width="1"/>
<line x1="390.1" y1="542.5" x2="390.1" y2="546.5" stroke="#525252" stroke-width="1"/>
<line x1="396.1" y1="542.5" x2="396.1" y2="546.5" stroke="#525252" stroke-width="1"/>
<line x1="400.25" y1="542.5" x2="400.25" y2="546.5" stroke="#525252" stroke-width="1"/>
<line x1="406.25" y1="542.5" x2="406.25" y2="546.5" stroke="#525252" stroke-width="1"/>
<line x1="410.4" y1="542.5" x2="410.4" y2="546.5" stroke="#525252" stroke-width="1"/>
<line x1="416.4" y1="542.5" x2="416.4" y2="546.5" stroke="#525252" stroke-width="1"/>
<line x1="421.25" y1="542.5" x2="421.25" y2="546.5" stroke="#525252" stroke-width="1"/>
<line x1="426.5" y1="542.5" x2="426.5" y2="546.5" stroke="#525252" stroke-width="1"/>
<line x1="431.75" y1="542.5" x2="431.75" y2="546.5" stroke="#525252" stroke-width="1"/>
<line x1="437.5" y1="542.5" x2="437.5" y2="546.5" stroke="#525252" stroke-width="1"/>
<line x1="442.9" y1="542.5" x2="442.9" y2="546.5" stroke="#525252" stroke-width="1"/>
<line x1="447.75" y1="542.5" x2="447.75" y2="546.5" stroke="#525252" stroke-width="1"/>
<line x1="453.75" y1="542.5" x2="453.75" y2="546.5" stroke="#525252" stroke-width="1"/>
<line x1="458.6" y1="542.5" x2="458.6" y2="546.5" stroke="#525252" stroke-width="1"/>
<line x1="464.25" y1="542.5" x2="464.25" y2="546.5" stroke="#525252" stroke-width="1"/>
<line x1="469.1" y1="542.5" x2="469.1" y2="546.5" stroke="#525252" stroke-width="1"/>
<line x1="474.4" y1="542.5" x2="474.4" y2="546.5" stroke="#525252" stroke-width="1"/>
<line x1="479.25" y1="542.5" x2="479.25" y2="546.5" stroke="#525252" stroke-width="1"/>
<line x1="484.5" y1="542.5" x2="484.5" y2="546.5" stroke="#525252" stroke-width="1"/>
<line x1="489.75" y1="542.5" x2="489.75" y2="546.5" stroke="#525252" stroke-width="1"/>
<line x1="494.25" y1="542.5" x2="494.25" y2="546.5" stroke="#525252" stroke-width="1"/>
<line x1="503.6" y1="542.5" x2="503.6" y2="546.5" stroke="#525252" stroke-width="1"/>
<line x1="508.3" y1="542.5" x2="508.3" y2="546.5" stroke="#525252" stroke-width="1"/>
<line x1="512.5" y1="542.5" x2="512.5" y2="546.5" stroke="#525252" stroke-width="1"/>
<line x1="517.65" y1="542.5" x2="517.65" y2="546.5" stroke="#525252" stroke-width="1"/>
<line x1="520" y1="542.5" x2="520" y2="546.5" stroke="#525252" stroke-width="1"/>
<line x1="525.6" y1="542.5" x2="525.6" y2="546.5" stroke="#525252" stroke-width="1"/>
<line x1="527.5" y1="542.5" x2="527.5" y2="546.5" stroke="#525252" stroke-width="1"/>
<line x1="533.8" y1="542.5" x2="533.8" y2="546.5" stroke="#525252" stroke-width="1"/>
<line x1="539.2" y1="542.5" x2="539.2" y2="546.5" stroke="#525252" stroke-width="1"/>
<line x1="544.4" y1="542.5" x2="544.4" y2="546.5" stroke="#525252" stroke-width="1"/>
<line x1="549.5" y1="542.5" x2="549.5" y2="546.5" stroke="#525252" stroke-width="1"/>
<line x1="553.75" y1="542.5" x2="553.75" y2="546.5" stroke="#525252" stroke-width="1"/>
<line x1="555.6" y1="542.5" x2="555.6" y2="546.5" stroke="#525252" stroke-width="1"/>
<line x1="557.5" y1="542.5" x2="557.5" y2="546.5" stroke="#525252" stroke-width="1"/>
<rect x="334.45" y="543.4" width="1.75" height="2.3" rx="1.1" fill="none" stroke="#b4b4b4" stroke-width="0.6"/>
<rect x="338.60" y="543.4" width="1.70" height="2.3" rx="1.1" fill="none" stroke="#b4b4b4" stroke-width="0.6"/>
<rect x="342.70" y="543.4" width="1.35" height="2.3" rx="1.1" fill="none" stroke="#b4b4b4" stroke-width="0.6"/>
<rect x="346.45" y="543.4" width="3.95" height="2.3" rx="1.1" fill="none" stroke="#b4b4b4" stroke-width="0.6"/>
<rect x="352.80" y="543.4" width="2.60" height="2.3" rx="1.1" fill="none" stroke="#b4b4b4" stroke-width="0.6"/>
<rect x="357.80" y="543.4" width="6.50" height="2.3" rx="1.1" fill="none" stroke="#b4b4b4" stroke-width="0.6"/>
<rect x="366.70" y="543.4" width="5.10" height="2.3" rx="1.1" fill="none" stroke="#b4b4b4" stroke-width="0.6"/>
<rect x="374.20" y="543.4" width="2.85" height="2.3" rx="1.1" fill="none" stroke="#b4b4b4" stroke-width="0.6"/>
<rect x="382.30" y="543.4" width="3.60" height="2.3" rx="1.1" fill="none" stroke="#b4b4b4" stroke-width="0.6"/>
<rect x="391.30" y="543.4" width="3.60" height="2.3" rx="1.1" fill="none" stroke="#b4b4b4" stroke-width="0.6"/>
<rect x="397.30" y="543.4" width="1.75" height="2.3" rx="1.1" fill="none" stroke="#b4b4b4" stroke-width="0.6"/>
<rect x="401.45" y="543.4" width="3.60" height="2.3" rx="1.1" fill="none" stroke="#b4b4b4" stroke-width="0.6"/>
<rect x="407.45" y="543.4" width="1.75" height="2.3" rx="1.1" fill="none" stroke="#b4b4b4" stroke-width="0.6"/>
<rect x="411.60" y="543.4" width="3.60" height="2.3" rx="1.1" fill="none" stroke="#b4b4b4" stroke-width="0.6"/>
<rect x="417.60" y="543.4" width="2.45" height="2.3" rx="1.1" fill="none" stroke="#b4b4b4" stroke-width="0.6"/>
<rect x="422.45" y="543.4" width="2.85" height="2.3" rx="1.1" fill="none" stroke="#b4b4b4" stroke-width="0.6"/>
<rect x="427.70" y="543.4" width="2.85" height="2.3" rx="1.1" fill="none" stroke="#b4b4b4" stroke-width="0.6"/>
<rect x="432.95" y="543.4" width="3.35" height="2.3" rx="1.1" fill="none" stroke="#b4b4b4" stroke-width="0.6"/>
<rect x="438.70" y="543.4" width="3.00" height="2.3" rx="1.1" fill="none" stroke="#b4b4b4" stroke-width="0.6"/>
<rect x="444.10" y="543.4" width="2.45" height="2.3" rx="1.1" fill="none" stroke="#b4b4b4" stroke-width="0.6"/>
<rect x="448.95" y="543.4" width="3.60" height="2.3" rx="1.1" fill="none" stroke="#b4b4b4" stroke-width="0.6"/>
<rect x="454.95" y="543.4" width="2.45" height="2.3" rx="1.1" fill="none" stroke="#b4b4b4" stroke-width="0.6"/>
<rect x="459.80" y="543.4" width="3.25" height="2.3" rx="1.1" fill="none" stroke="#b4b4b4" stroke-width="0.6"/>
<rect x="465.45" y="543.4" width="2.45" height="2.3" rx="1.1" fill="none" stroke="#b4b4b4" stroke-width="0.6"/>
<rect x="470.30" y="543.4" width="2.90" height="2.3" rx="1.1" fill="none" stroke="#b4b4b4" stroke-width="0.6"/>
<rect x="475.60" y="543.4" width="2.45" height="2.3" rx="1.1" fill="none" stroke="#b4b4b4" stroke-width="0.6"/>
<rect x="480.45" y="543.4" width="2.85" height="2.3" rx="1.1" fill="none" stroke="#b4b4b4" stroke-width="0.6"/>
<rect x="485.70" y="543.4" width="2.85" height="2.3" rx="1.1" fill="none" stroke="#b4b4b4" stroke-width="0.6"/>
<rect x="490.95" y="543.4" width="2.10" height="2.3" rx="1.1" fill="none" stroke="#b4b4b4" stroke-width="0.6"/>
<rect x="495.45" y="543.4" width="6.95" height="2.3" rx="1.1" fill="none" stroke="#b4b4b4" stroke-width="0.6"/>
<rect x="504.80" y="543.4" width="2.30" height="2.3" rx="1.1" fill="none" stroke="#b4b4b4" stroke-width="0.6"/>
<rect x="509.50" y="543.4" width="1.80" height="2.3" rx="1.1" fill="none" stroke="#b4b4b4" stroke-width="0.6"/>
<rect x="513.70" y="543.4" width="2.75" height="2.3" rx="1.1" fill="none" stroke="#b4b4b4" stroke-width="0.6"/>
<rect x="521.20" y="543.4" width="3.20" height="2.3" rx="1.1" fill="none" stroke="#b4b4b4" stroke-width="0.6"/>
<rect x="528.70" y="543.4" width="3.90" height="2.3" rx="1.1" fill="none" stroke="#b4b4b4" stroke-width="0.6"/>
<rect x="535.00" y="543.4" width="3.00" height="2.3" rx="1.1" fill="none" stroke="#b4b4b4" stroke-width="0.6"/>
<rect x="540.40" y="543.4" width="2.80" height="2.3" rx="1.1" fill="none" stroke="#b4b4b4" stroke-width="0.6"/>
<rect x="545.60" y="543.4" width="2.70" height="2.3" rx="1.1" fill="none" stroke="#b4b4b4" stroke-width="0.6"/>
<rect x="550.70" y="543.4" width="1.85" height="2.3" rx="1.1" fill="none" stroke="#b4b4b4" stroke-width="0.6"/>
<rect x="327.5" y="546.5" width="235" height="3.3" fill="#fff" stroke="#555" stroke-width="1"/>
<line x1="357.25" y1="531" x2="357.25" y2="542" stroke="#111" stroke-width="1.6"/>
<line x1="533.1" y1="531" x2="533.1" y2="542" stroke="#111" stroke-width="1.6"/>
<path d="M442.5,530.5 L443.4,530.5 L443.5,542.8 L441,542.8 Z" fill="#111" stroke="none" stroke-width="1"/>
<path d="M447.2,530.5 L448.1,530.5 L449.8,542.8 L447.3,542.8 Z" fill="#111" stroke="none" stroke-width="1"/>
<line x1="440.8" y1="538.6" x2="443.7" y2="538.6" stroke="#bbb" stroke-width="0.6"/>
<line x1="447" y1="538.6" x2="449.8" y2="538.6" stroke="#bbb" stroke-width="0.6"/>
<line x1="356" y1="538.6" x2="358.5" y2="538.6" stroke="#bbb" stroke-width="0.6"/>
<line x1="532" y1="538.6" x2="534.5" y2="538.6" stroke="#bbb" stroke-width="0.6"/>
<path d="M437.3,581.5 L442.5,581.5 M437.6,581.5 Q437.4,584.5 437.8,586.5 M437.6,581.8 L440,584 M448,581.5 L453.4,581.5 M453.1,581.5 Q453.3,584.5 452.9,586.5 M453.1,581.8 L450.7,584 M437.3,607.8 L442.5,610.2 M448,610.2 L453.3,607.8 M431.9,595.5 L431.9,598.5 M458.6,595.5 L458.6,598.5" fill="none" stroke="#444" stroke-width="1"/>
<path d="M357.25,580.5 L357.25,582.5 M357.25,609.5 L357.25,611.5 M363.2,586 L365,588 M363.2,606.5 L365,604.5 M533.5,580.5 L533.5,582.5 M533.5,609.5 L533.5,611.5 M527.5,586 L525.8,588 M527.5,606.5 L525.8,604.5" fill="none" stroke="#444" stroke-width="1"/>
</svg>
<div class="t" id="t20" style="left:416.8px;top:-1.6px;font-size:16.5px">Ø20 cm</div>
<div class="t" id="t120" style="left:235.2px;top:380.3px;font-size:16px">120 cm</div>
<div class="t" id="t44" style="left:276px;top:602.4px;font-size:16.3px">44 cm</div>
<div class="t" id="t40" style="left:416.6px;top:740px;font-size:16.5px">Ø40 cm</div>
<div class="t" id="tm" style="left:384.2px;top:775.3px;font-size:22.3px;color:#333;-webkit-text-stroke:0">15698H2M</div>
</body></html>
